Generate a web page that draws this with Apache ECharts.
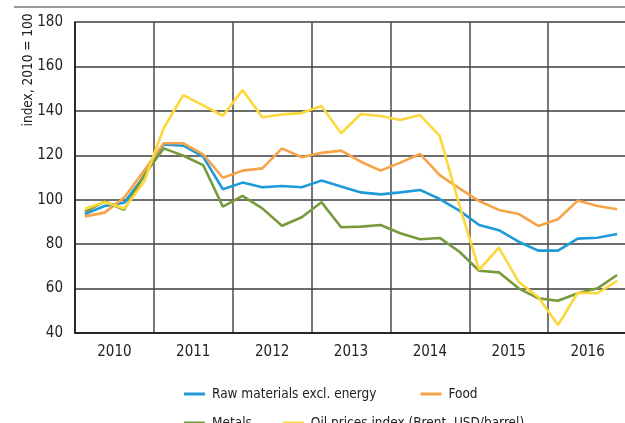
<!DOCTYPE html>
<html>
<head>
<meta charset="utf-8">
<script src="https://cdn.jsdelivr.net/npm/echarts@6/dist/echarts.min.js"></script>
<style>
  html, body { margin: 0; padding: 0; background: #fff; }
  #chart { width: 625px; height: 423px; }
</style>
</head>
<body>
<div id="chart"></div>
<script>
var quarters = [
  '2010Q1', '2010Q2', '2010Q3', '2010Q4',
  '2011Q1', '2011Q2', '2011Q3', '2011Q4',
  '2012Q1', '2012Q2', '2012Q3', '2012Q4',
  '2013Q1', '2013Q2', '2013Q3', '2013Q4',
  '2014Q1', '2014Q2', '2014Q3', '2014Q4',
  '2015Q1', '2015Q2', '2015Q3', '2015Q4',
  '2016Q1', '2016Q2', '2016Q3', '2016Q4'
];
var years = ['2010', '2011', '2012', '2013', '2014', '2015', '2016'];

var rawMaterials = [93.5, 97.2, 98.7, 110.5, 124.9, 124.3, 119.4, 104.7, 107.7, 105.6, 106.2, 105.6, 108.6, 105.9,
  103.3, 102.4, 103.3, 104.4, 100.3, 95.1, 88.6, 86.3, 81.1, 77.1, 77.1, 82.5, 82.9, 84.6];
var food = [92.5, 94.2, 101, 113, 125.4, 125.4, 120.4, 109.9, 113.1, 114.1, 123.1, 119.1, 121.1, 122.1,
  117.1, 113.1, 116.7, 120.6, 111.1, 105.1, 99.4, 95.4, 93.6, 88.2, 91.2, 99.6, 97.2, 95.7];
var metals = [94.5, 99.2, 95.5, 111, 123.1, 119.8, 115.6, 96.9, 101.7, 96.1, 88.3, 92.1, 98.9, 87.6,
  87.9, 88.6, 84.9, 82.2, 82.8, 76.6, 68, 67.3, 60.1, 55.6, 54.5, 57.9, 60.1, 66.1];
var oil = [95.8, 99, 96, 108, 132.3, 147.1, 142.5, 137.8, 149.4, 137.1, 138.4, 139, 142.2, 129.9,
  138.6, 137.7, 135.9, 138.1, 128.7, 97.5, 68.4, 78.4, 63.1, 56.1, 43.6, 58.1, 57.9, 63.5];

var seriesNames = ['Raw materials excl. energy', 'Food', 'Metals', 'Oil prices index (Brent, USD/barrel)'];
var seriesColors = ['#1f9ad8', '#f6a447', '#779a3d', '#fdd83a'];

var font = "'DejaVu Sans Condensed', sans-serif";

var chart = echarts.init(document.getElementById('chart'));

var option = {
  animation: false,
  textStyle: { fontFamily: font },
  grid: { left: 75, top: 22, width: 552, height: 311, outerBoundsMode: 'none' },
  graphic: [
    {
      type: 'line',
      shape: { x1: 14, y1: 7, x2: 625, y2: 7 },
      style: { stroke: '#333', lineWidth: 1.2 }
    },
    {
      type: 'text',
      x: 28, y: 70,
      rotation: Math.PI / 2,
      style: {
        text: 'index, 2010 = 100',
        fontFamily: font, fontSize: 13.5, fill: '#222',
        align: 'center', verticalAlign: 'middle'
      }
    }
  ],
  legend: [
    {
      data: seriesNames.slice(0, 2),
      left: 179, top: 382,
      icon: 'rect', itemWidth: 21, itemHeight: 3, itemGap: 44,
      textStyle: { fontFamily: font, fontSize: 13.5, color: '#222', padding: [0, 0, 0, 2] }
    },
    {
      data: seriesNames.slice(2),
      left: 179, top: 411,
      icon: 'rect', itemWidth: 21, itemHeight: 3, itemGap: 31,
      textStyle: { fontFamily: font, fontSize: 13.5, color: '#222', padding: [0, 0, 0, 2] }
    }
  ],
  xAxis: [
    {
      type: 'category',
      data: quarters,
      boundaryGap: true,
      show: false
    },
    {
      type: 'category',
      data: years,
      boundaryGap: true,
      position: 'bottom',
      axisLine: { lineStyle: { color: '#111', width: 1.5 } },
      axisTick: { show: false },
      axisLabel: { fontFamily: font, fontSize: 15, color: '#222', margin: 12 },
      splitLine: { show: true, lineStyle: { color: '#4a4a4a', width: 1.5 } }
    }
  ],
  yAxis: {
    type: 'value',
    min: 40, max: 180, interval: 20,
    axisLine: { show: true, lineStyle: { color: '#111', width: 1.5 } },
    axisTick: { show: false },
    axisLabel: { fontFamily: font, fontSize: 15, color: '#222', margin: 12 },
    splitLine: { lineStyle: { color: '#3c3c3c', width: 1.5 } }
  },
  series: [rawMaterials, food, metals, oil].map(function (d, i) {
    return {
      name: seriesNames[i],
      type: 'line',
      xAxisIndex: 0,
      data: d,
      symbol: 'none',
      color: seriesColors[i],
      lineStyle: { width: 2.6, color: seriesColors[i] }
    };
  })
};

chart.setOption(option);
</script>
</body>
</html>
